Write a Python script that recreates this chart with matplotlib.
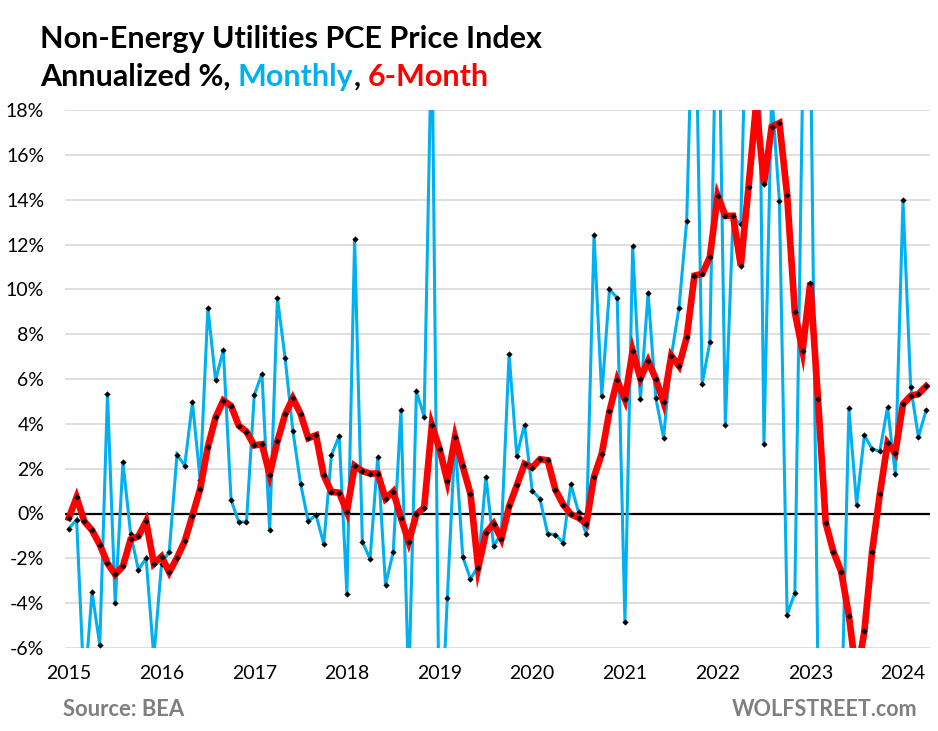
import numpy as np
import matplotlib
matplotlib.use("Agg")
import matplotlib.pyplot as plt

# ---------------- data ----------------
years = ["2015", "2016", "2017", "2018", "2019", "2020", "2021", "2022", "2023", "2024"]

monthly = [
    -0.67, -0.27, -8.0, -3.5, -5.87, 5.33, -4.0, 2.29, -0.91, -2.51, -2.0, -6.4,      # 2015
    -2.24, -1.7, 2.63, 2.14, 4.96, 1.5, 9.17, 5.94, 7.3, 0.61, -0.38, -0.38,          # 2016
    5.28, 6.24, -0.75, 9.62, 6.93, 3.7, 1.33, -0.35, -0.06, -1.36, 2.6, 3.46,         # 2017
    -3.6, 12.24, -1.26, -2.03, 2.53, -3.18, -1.71, 4.61, -7.8, 5.46, 4.32, 22.0,      # 2018
    -11.5, -3.76, 3.35, -1.93, -2.92, -2.35, 1.65, -1.44, -0.9, 7.12, 2.56, 3.97,     # 2019
    1.01, 0.66, -0.91, -0.94, -1.31, 1.3, 0.05, -0.91, 12.42, 5.25, 10.0, 9.62,       # 2020
    -4.86, 11.92, 5.09, 9.84, 5.14, 3.38, 7.0, 9.17, 13.06, 26.1, 5.78, 7.65,         # 2021
    26.0, 3.97, 13.2, 12.9, 27.0, 33.0, 3.12, 18.8, 13.92, -4.51, -3.55, 19.0,        # 2022
    22.0, -7.5, -22.0, -12.5, -9.6, 4.69, 0.4, 3.49, 2.88, 2.77, 4.74, 1.78,          # 2023
    13.97, 5.65, 3.41, 4.61,                                                          # 2024
]

six_month = [
    -0.19, 0.72, -0.35, -0.75, -1.39, -2.22, -2.72, -2.35, -1.15, -1.02, -0.35, -2.24,
    -1.92, -2.62, -1.98, -1.24, -0.09, 1.1, 2.98, 4.29, 5.04, 4.8, 3.92, 3.65,
    3.04, 3.09, 1.73, 3.22, 4.42, 5.14, 4.45, 3.36, 3.49, 1.70, 0.96, 0.93,
    0.08, 2.13, 1.89, 1.78, 1.78, 0.66, 0.98, -0.19, -1.26, -0.03, 0.26, 3.94,
    2.88, 1.46, 3.41, 2.1, 0.88, -2.43, -0.86, -0.45, -1.13, 0.32, 1.25, 2.21,
    2.05, 2.42, 2.37, 1.06, 0.4, -0.03, -0.19, -0.46, 1.65, 2.66, 4.56, 5.94,
    5.09, 7.25, 6.02, 6.8, 6.0, 4.96, 7.04, 6.58, 7.86, 10.61, 10.69, 11.44,
    14.18, 13.28, 13.28, 11.06, 14.55, 18.3, 14.72, 17.25, 17.42, 14.21, 8.98, 7.25,
    10.29, 5.09, -0.43, -1.71, -2.59, -4.56, -7.3, -5.26, -1.71, 0.85, 3.14, 2.69,
    4.88, 5.25, 5.33, 5.68,
]

y_ticks = list(range(-6, 19, 2))

# ---------------- style ----------------
BLUE = "#00B0F0"
RED = "#FF0000"
GRAY = "#7F7F7F"
FONT = ["Lato", "DejaVu Sans"]
plt.rcParams["font.family"] = FONT

W, H = 938, 731
fig = plt.figure(figsize=(W / 100, H / 100), dpi=100)
ax = fig.add_axes([65 / W, 1 - 648 / H, (930 - 65) / W, (648 - 110) / H])

x = np.arange(len(monthly))

for t in y_ticks:
    if t == 0:
        continue
    ax.axhline(t, color="#D9D9D9", lw=1.2, zorder=0)
ax.axhline(0, color="black", lw=1.6, zorder=1)

ax.plot(x, monthly, color=BLUE, lw=2.2, zorder=2, solid_joinstyle="miter",
        marker="D", markersize=3.2, markerfacecolor="black", markeredgewidth=0)
ax.plot(np.arange(len(six_month)), six_month, color=RED, lw=4.8, zorder=3,
        solid_joinstyle="miter",
        marker="D", markersize=3.2, markerfacecolor="black", markeredgewidth=0)

ax.set_xlim(-0.5, len(monthly) - 0.5)
ax.set_ylim(-6, 18)
ax.set_yticks(y_ticks)
ax.set_yticklabels([f"{t}%" for t in y_ticks])
ax.set_xticks([12 * i for i in range(len(years))])
ax.set_xticklabels(years)
ax.tick_params(axis="y", length=0, pad=15, labelsize=14)
ax.tick_params(axis="x", length=0, pad=12, labelsize=14)
for s in ax.spines.values():
    s.set_visible(False)

# ---------------- titles ----------------
TS = 22
fig.text(40 / W, 1 - 48 / H, "Non-Energy Utilities PCE Price Index",
         fontsize=TS, fontweight="bold", ha="left", va="baseline")

parts = [("Annualized %, ", "black"), ("Monthly", BLUE), (", ", "black"), ("6-Month", RED)]
prev = fig.text(40 / W, 1 - 86 / H, parts[0][0], fontsize=TS, fontweight="bold",
                color=parts[0][1], ha="left", va="baseline")
for txt, col in parts[1:]:
    prev = ax.annotate(txt, xy=(1, 0), xycoords=prev, xytext=(0, 0),
                       textcoords="offset points", ha="left", va="bottom",
                       fontsize=TS, fontweight="bold", color=col,
                       annotation_clip=False)

fig.text(63 / W, 1 - 716 / H, "Source: BEA", fontsize=15.8, fontweight="bold",
         color=GRAY, ha="left", va="baseline")
fig.text(917 / W, 1 - 716 / H, "WOLFSTREET.com", fontsize=15.5, fontweight="bold",
         color=GRAY, ha="right", va="baseline")

fig.savefig("out.png", dpi=100)
